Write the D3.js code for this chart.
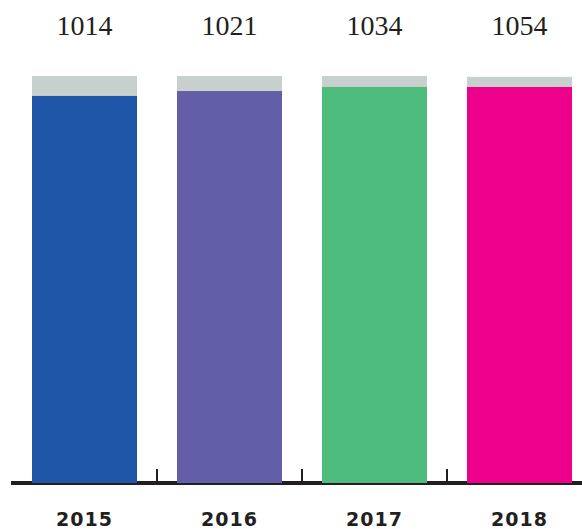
<!DOCTYPE html>
<html>
<head>
<meta charset="utf-8">
<script src="https://cdn.jsdelivr.net/npm/d3@7"></script>
<style>
  html, body { margin: 0; padding: 0; background: #fff; }
  svg { display: block; }
</style>
</head>
<body>
<svg id="chart"></svg>
<script>
const years = ['2015', '2016', '2017', '2018'];
const labels = ['1014', '1021', '1034', '1054'];
// share of total (%) shown in colour, grey is the full 100
const shares = [95.1, 96.3, 97.3, 97.3];
const totals = [100, 100, 100, 99.8];
const colors = ['#2056a8', '#635ea8', '#4ebc7c', '#ec008c'];

const width = 582;
const height = 529;

const svg = d3.select('#chart')
    .attr('width', width)
    .attr('height', height);

const x = d3.scaleBand()
    .domain(years)
    .range([12, 592])
    .paddingInner(40 / 145)
    .paddingOuter(20 / 145);

const y = d3.scaleLinear()
    .domain([0, 100])
    .range([483, 76]);

// baseline
svg.append('line')
    .attr('x1', 11)
    .attr('x2', width)
    .attr('y1', 483)
    .attr('y2', 483)
    .attr('stroke', '#231f20')
    .attr('stroke-width', 4);

// tick marks between bars
svg.append('g')
    .selectAll('line')
    .data(years.slice(1))
    .enter()
    .append('line')
        .attr('x1', d => x(d) - 20)
        .attr('x2', d => x(d) - 20)
        .attr('y1', 469)
        .attr('y2', 483)
        .attr('stroke', '#231f20')
        .attr('stroke-width', 2);

// grey totals
svg.append('g')
    .selectAll('rect')
    .data(years)
    .enter()
    .append('rect')
        .attr('x', d => x(d))
        .attr('width', x.bandwidth())
        .attr('y', (d, i) => y(totals[i]))
        .attr('height', (d, i) => y(0) - y(totals[i]))
        .attr('fill', '#c8d0cd');

// coloured shares
svg.append('g')
    .selectAll('rect')
    .data(years)
    .enter()
    .append('rect')
        .attr('x', d => x(d))
        .attr('width', x.bandwidth())
        .attr('y', (d, i) => y(shares[i]))
        .attr('height', (d, i) => y(0) - y(shares[i]))
        .attr('fill', (d, i) => colors[i]);

// value labels
svg.append('g')
    .selectAll('text')
    .data(years)
    .enter()
    .append('text')
        .attr('x', d => x(d) + x.bandwidth() / 2)
        .attr('y', 35)
        .attr('text-anchor', 'middle')
        .style('font-family', '"Liberation Serif", "DejaVu Serif", serif')
        .style('font-size', '28px')
        .attr('fill', '#231f20')
        .text((d, i) => labels[i]);

// year labels
svg.append('g')
    .selectAll('text')
    .data(years)
    .enter()
    .append('text')
        .attr('x', d => x(d) + x.bandwidth() / 2)
        .attr('y', 526)
        .attr('text-anchor', 'middle')
        .style('font-family', '"DejaVu Sans", sans-serif')
        .style('font-weight', 'bold')
        .style('font-size', '19px')
        .style('letter-spacing', '1px')
        .attr('fill', '#231f20')
        .text(d => d);
</script>
</body>
</html>
